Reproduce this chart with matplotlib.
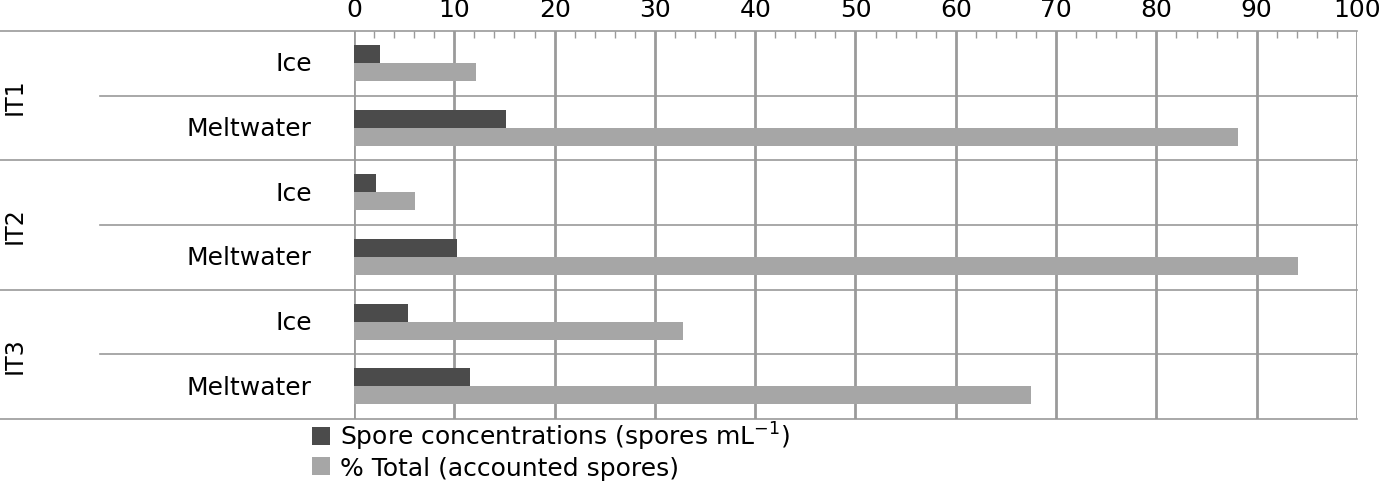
import matplotlib.pyplot as plt
import numpy as np
from matplotlib.ticker import MultipleLocator

plt.rcParams['font.family'] = ['DejaVu Sans']

groups = ['IT1', 'IT2', 'IT3']
samples = ['Ice', 'Meltwater', 'Ice', 'Meltwater', 'Ice', 'Meltwater']
spore_conc = [2.6, 15.2, 2.2, 10.3, 5.4, 11.6]
pct_total = [12.2, 88.1, 6.1, 94.1, 32.8, 67.5]

dark = '#4b4b4b'
light = '#a6a6a6'
grid_c = '#9a9a9a'

fig = plt.figure(figsize=(14, 4.85), dpi=100)
ax = fig.add_axes([354 / 1400, 1 - 420 / 485, 1003 / 1400, 388 / 485])

y = np.arange(len(samples))
h = 0.28
ax.barh(y - 0.145, spore_conc, height=h, color=dark, zorder=3,
        label='Spore concentrations (spores mL$^{-1}$)')
ax.barh(y + 0.135, pct_total, height=h, color=light, zorder=3,
        label='% Total (accounted spores)')

ax.set_xlim(0, 100)
ax.set_ylim(len(samples) - 0.5, -0.5)
ax.xaxis.set_major_locator(MultipleLocator(10))
ax.xaxis.set_minor_locator(MultipleLocator(2))
ax.xaxis.tick_top()
ax.tick_params(axis='x', which='major', length=0, labelsize=18, pad=7)
ax.tick_params(axis='x', which='minor', direction='in', length=5,
               color=grid_c, width=1)
ax.set_yticks([])
ax.grid(axis='x', which='major', color=grid_c, linewidth=2, zorder=0)
for s in ['top', 'bottom', 'left', 'right']:
    ax.spines[s].set_visible(False)

# row separators
for k in range(len(samples) + 1):
    yy = k - 0.5
    x0 = -0.353 if k % 2 == 0 else -0.253
    ax.axhline(yy, xmin=x0, xmax=1.0, color=grid_c, linewidth=1.2,
               clip_on=False, zorder=1)

# category labels
for i, s in enumerate(samples):
    ax.text(-0.042, i, s, transform=ax.get_yaxis_transform(), ha='right',
            va='center', fontsize=18)

# group labels
for g, name in enumerate(groups):
    ax.text(-0.338, 2 * g + 0.5, name, transform=ax.get_yaxis_transform(),
            ha='center', va='center', rotation=90, fontsize=17)

fig.legend(loc='upper left', bbox_to_anchor=(312 / 1400, 1 - 421 / 485),
           frameon=False, fontsize=18, handlelength=0.7, handleheight=0.7,
           handletextpad=0.4, labelspacing=0.15, borderaxespad=0, borderpad=0)

fig.savefig('out.png', dpi=100)
